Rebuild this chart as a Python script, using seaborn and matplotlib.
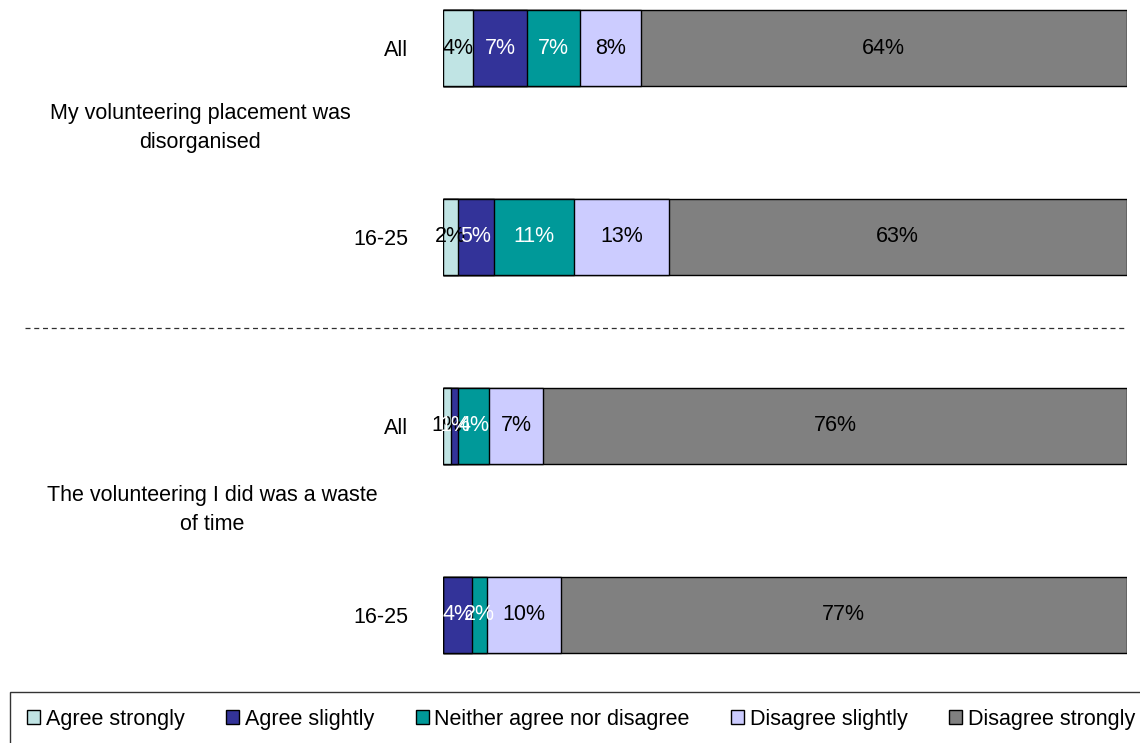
import matplotlib
matplotlib.use("Agg")
import matplotlib.pyplot as plt
from matplotlib.patches import Patch
from matplotlib.lines import Line2D
import numpy as np
import pandas as pd
import seaborn as sns

# answer categories, left to right
categories = ["Agree strongly", "Agree slightly", "Neither agree nor disagree",
              "Disagree slightly", "Disagree strongly"]
colors = ["#C0E4E4", "#333399", "#009999", "#CCCCFF", "#808080"]
label_colors = ["black", "white", "white", "black", "black"]

# rows, top to bottom
row_ids = ["disorg_all", "disorg_young", "waste_all", "waste_young"]
row_labels = ["All", "16-25", "All", "16-25"]
questions = ["My volunteering placement was\ndisorganised",
             "The volunteering I did was a waste\nof time"]

# percentages as printed on the bars
disorg_all = [4, 7, 7, 8, 64]
disorg_young = [2, 5, 11, 13, 63]
waste_all = [1, 1, 4, 7, 76]
waste_young = [0, 4, 2, 10, 77]
values = [disorg_all, disorg_young, waste_all, waste_young]

# bars are drawn as 100% stacked shares of the answers shown
vals = np.array(values, dtype=float)
share = vals / vals.sum(axis=1, keepdims=True) * 100
cum = share.cumsum(axis=1)

rows = []
for i, rid in enumerate(row_ids):
    for j, cat in enumerate(categories):
        rows.append({"row": rid, "cat": cat, "end": cum[i, j],
                     "start": cum[i, j] - share[i, j], "val": vals[i, j]})
df = pd.DataFrame(rows)

sns.set_theme(style="white")
plt.rcParams["font.family"] = ["Liberation Sans", "DejaVu Sans"]
plt.rcParams["text.color"] = "black"
plt.rcParams["ytick.color"] = "black"
plt.rcParams["ytick.labelcolor"] = "black"
fs = 15.5

fig = plt.figure(figsize=(11.4, 7.43), dpi=100)
ax = fig.add_axes([443 / 1140, 1 - 680 / 743, (1127 - 443) / 1140, 680 / 743])

# draw from the right-most cumulative end backwards so segments stack
for j in reversed(range(len(categories))):
    sub = df[df["cat"] == categories[j]]
    sns.barplot(data=sub, x="end", y="row", order=row_ids, color=colors[j],
                saturation=1, orient="h", width=0.4, edgecolor="black",
                linewidth=1, ax=ax)

for _, r in df.iterrows():
    if r["val"] <= 0:
        continue
    j = categories.index(r["cat"])
    ax.text((r["start"] + r["end"]) / 2, row_ids.index(r["row"]),
            f"{int(r['val'])}%", ha="center", va="center", fontsize=fs,
            color=label_colors[j])

ax.set_xlim(0, 100)
ax.set_ylim(3.344, -0.254)
ax.set_xticks([])
ax.set_yticks(range(len(row_ids)))
ax.set_yticklabels(row_labels, fontsize=fs, color="black")
ax.tick_params(axis="y", length=0, pad=25)
ax.set_xlabel("")
ax.set_ylabel("")
for s in ax.spines.values():
    s.set_visible(False)

# question labels
fig.text(200 / 1140, 1 - 128 / 743, questions[0], ha="center", va="center",
         fontsize=fs, linespacing=1.45, color="black")
fig.text(212 / 1140, 1 - 510 / 743, questions[1], ha="center", va="center",
         fontsize=fs, linespacing=1.45, color="black")

# separator between the two questions
fig.add_artist(Line2D([25 / 1140, 1125 / 1140], [1 - 328 / 743] * 2,
                      transform=fig.transFigure, color="#303030", lw=0.9,
                      ls=(0, (4, 3))))

handles = [Patch(facecolor=c, edgecolor="black", linewidth=1) for c in colors]
leg = fig.legend(handles, categories, loc="lower left",
                 bbox_to_anchor=(10 / 1140, -4 / 743), ncol=5, fontsize=fs,
                 frameon=True, fancybox=False, handlelength=0.6,
                 handleheight=0.6, handletextpad=0.25, columnspacing=1.95,
                 borderpad=0.8, borderaxespad=0)
leg.get_frame().set_edgecolor("black")
leg.get_frame().set_linewidth(1)
for t in leg.get_texts():
    t.set_color("black")

fig.savefig("out.png", dpi=100)
